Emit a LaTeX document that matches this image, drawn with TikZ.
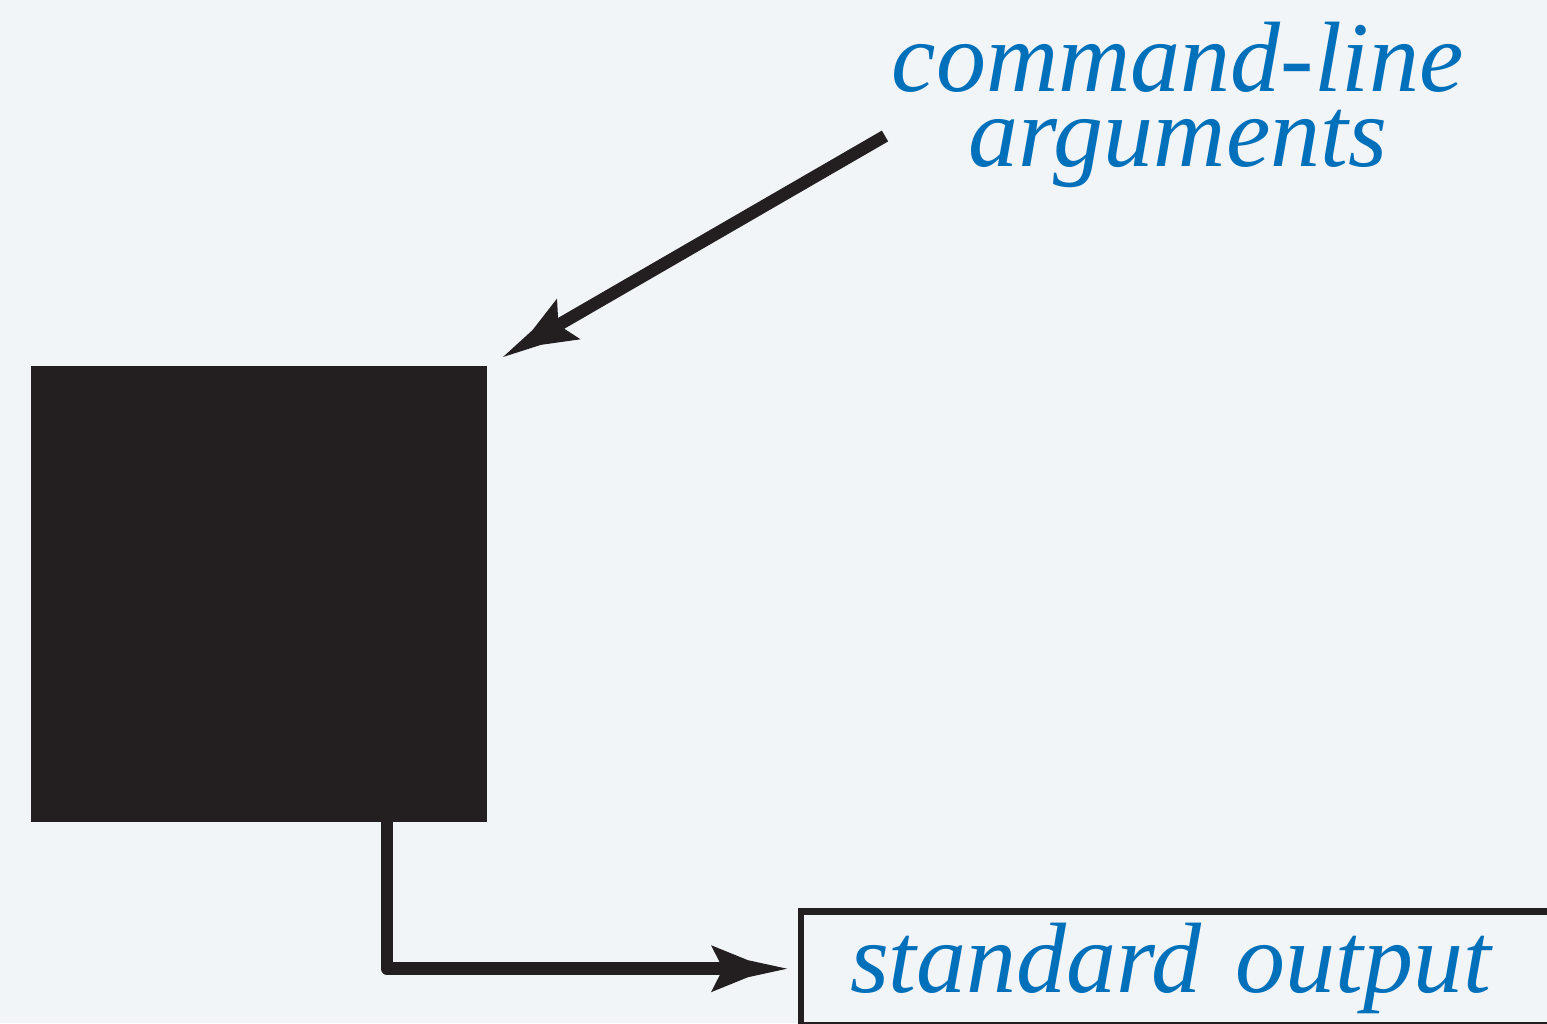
\documentclass[tikz,border=0pt]{standalone}
\usepackage{fontspec}
\setmainfont{Liberation Serif}
\usetikzlibrary{arrows.meta}
\definecolor{bgc}{RGB}{242,245,248}
\definecolor{ink}{RGB}{35,31,32}
\definecolor{txtblue}{RGB}{0,112,186}
\pgfdeclarearrow{
  name = Kink,
  parameters = {},
  setup code = {
    \pgfarrowssettipend{0pt}
    \pgfarrowssetbackend{-76pt}
    \pgfarrowssetlineend{-60pt}
    \pgfarrowsupperhullpoint{0pt}{0pt}
    \pgfarrowsupperhullpoint{-76pt}{23.5pt}
  },
  drawing code = {
    \pgfpathmoveto{\pgfqpoint{0pt}{0pt}}
    \pgfpathlineto{\pgfqpoint{-39pt}{8.5pt}}
    \pgfpathlineto{\pgfqpoint{-76pt}{23.5pt}}
    \pgfpathlineto{\pgfqpoint{-64pt}{0pt}}
    \pgfpathlineto{\pgfqpoint{-76pt}{-23.5pt}}
    \pgfpathlineto{\pgfqpoint{-39pt}{-8.5pt}}
    \pgfpathclose
    \pgfusepathqfill
  }
}
\tikzset{
  conn/.style={draw=ink, line width=12.5pt, -{Kink}},
  lbl/.style={text=txtblue, font=\fontsize{100}{75}\selectfont\itshape, inner sep=0pt},
  progbox/.style={fill=ink, draw=none, minimum width=456.5pt, minimum height=456pt, inner sep=0pt, outer sep=0pt},
  outbox/.style={draw=ink, line width=6.5pt, text=txtblue, font=\fontsize{100}{75}\selectfont\itshape,
    anchor=north west, inner xsep=49pt, inner ysep=0pt, outer sep=0pt, text width=700pt, align=left, minimum height=114pt}
}
\begin{document}
\begin{tikzpicture}[x=1pt,y=-1pt]
\useasboundingbox (0,0) rectangle (1547,1023);
\clip (0,0) rectangle (1547,1023);
\fill[bgc] (0,0) rectangle (1547,1023);
\node[progbox] (prog) at (258.75,594) {};
\node[lbl, align=center] (args) at (1178,104.5) {command-line\\arguments};
\node[outbox] (out) at (801,911.7) {standard output};
\coordinate (argsfoot) at (885,136);
\draw[conn, line cap=butt] (argsfoot) -- ([xshift=16pt,yshift=9pt]prog.north east);
\draw[conn, line join=round, line cap=round] ([xshift=128pt]prog.south) |- ([xshift=-14pt]out.west);
\end{tikzpicture}
\end{document}
